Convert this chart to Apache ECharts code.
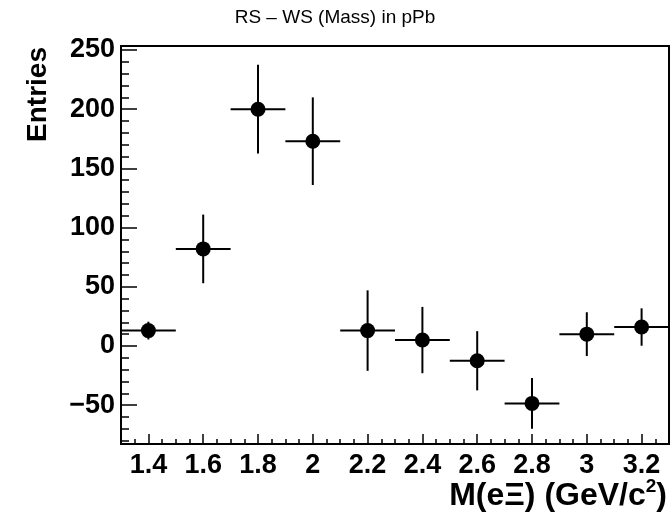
<!DOCTYPE html>
<html><head><meta charset="utf-8">
<script src="https://cdn.jsdelivr.net/npm/echarts@6/dist/echarts.min.js"></script>
<style>html,body{margin:0;padding:0;background:#fff}#c{width:670px;height:518px}</style>
</head><body><div id="c"></div>
<script>
// ---- data ----
const binCenters = [1.4, 1.6, 1.8, 2.0, 2.2, 2.4, 2.6, 2.8, 3.0, 3.2];
const binLow     = [1.3, 1.5, 1.7, 1.9, 2.1, 2.3, 2.5, 2.7, 2.9, 3.1];
const binHigh    = [1.5, 1.7, 1.9, 2.1, 2.3, 2.5, 2.7, 2.9, 3.1, 3.3];
const entries    = [13, 82, 200, 173, 13, 5, -12.5, -48.5, 10, 16];
const entryErrors= [7.5, 29, 37.5, 37, 34, 28, 25, 21.5, 18.5, 15.8];

const xMajorTicks = [1.4, 1.6, 1.8, 2, 2.2, 2.4, 2.6, 2.8, 3, 3.2];
const xMinorTicks = [1.35, 1.45, 1.5, 1.55, 1.65, 1.7, 1.75, 1.85, 1.9, 1.95, 2.05, 2.1, 2.15,
                     2.25, 2.3, 2.35, 2.45, 2.5, 2.55, 2.65, 2.7, 2.75, 2.85, 2.9, 2.95,
                     3.05, 3.1, 3.15, 3.25];
const yMajorTicks = [-50, 0, 50, 100, 150, 200, 250];
const yMinorTicks = [-80, -70, -60, -40, -30, -20, -10, 10, 20, 30, 40, 60, 70, 80, 90,
                     110, 120, 130, 140, 160, 170, 180, 190, 210, 220, 230, 240];
const xRange = [1.3, 3.3];
const yRange = [-82.8, 253.4];

const titleText = 'RS \u2013 WS (Mass) in pPb';
const yTitle = 'Entries';

// ---- chart ----
const chart = echarts.init(document.getElementById('c'), null, {renderer: 'canvas'});
const FONT = 'Liberation Sans, Arial, Helvetica, sans-serif';
const rows = binCenters.map((c, i) => [c, entries[i], binLow[i], binHigh[i], entryErrors[i]]);

const baseX = {
  type: 'value', min: xRange[0], max: xRange[1], position: 'bottom',
  splitLine: {show: false}
};
const baseY = {
  type: 'value', min: yRange[0], max: yRange[1], position: 'left',
  splitLine: {show: false}
};
const fmtMinus = v => String(v).replace('-', '\u2212');

chart.setOption({
  animation: false,
  backgroundColor: '#fff',
  title: {
    text: titleText, left: 'center', top: 3,
    textStyle: {fontFamily: FONT, fontWeight: 'normal', fontSize: 19, color: '#000'}
  },
  grid: {left: 121, right: 1, top: 46, bottom: 74, show: true, borderColor: '#000', borderWidth: 2,
         backgroundColor: 'transparent'},
  xAxis: [
    Object.assign({}, baseX, {
      axisLine: {show: true, onZero: false, lineStyle: {color: '#000', width: 2}},
      axisTick: {show: true, inside: true, length: 10, lineStyle: {color: '#000', width: 1.5},
                 customValues: xMajorTicks},
      axisLabel: {show: true, customValues: xMajorTicks, margin: 8, color: '#000',
                  fontFamily: FONT, fontWeight: 'bold', fontSize: 27}
    }),
    Object.assign({}, baseX, {
      axisLine: {show: false, onZero: false},
      axisTick: {show: true, inside: true, length: 5, lineStyle: {color: '#000', width: 1.5},
                 customValues: xMinorTicks},
      axisLabel: {show: false}
    })
  ],
  yAxis: [
    Object.assign({}, baseY, {
      axisLine: {show: true, onZero: false, lineStyle: {color: '#000', width: 2}},
      axisTick: {show: true, inside: true, length: 16, lineStyle: {color: '#000', width: 1.5},
                 customValues: yMajorTicks},
      axisLabel: {show: true, customValues: yMajorTicks, margin: 6, color: '#000',
                  fontFamily: FONT, fontWeight: 'bold', fontSize: 27, formatter: fmtMinus}
    }),
    Object.assign({}, baseY, {
      axisLine: {show: false, onZero: false},
      axisTick: {show: true, inside: true, length: 8, lineStyle: {color: '#000', width: 1.5},
                 customValues: yMinorTicks},
      axisLabel: {show: false}
    })
  ],
  graphic: [
    {
      type: 'text', x: 24, y: 47, rotation: Math.PI / 2,
      style: {text: yTitle, font: 'bold 28px ' + FONT, fill: '#000', align: 'right', verticalAlign: 'top'}
    },
    {
      type: 'text', x: 667, y: 477,
      style: {
        text: '{a|M(e\u039E) (GeV/c}{s|2}{a|)}',
        align: 'right', verticalAlign: 'top', fill: '#000',
        rich: {
          a: {font: 'bold 32px ' + FONT, fill: '#000', verticalAlign: 'bottom'},
          s: {font: 'bold 19px ' + FONT, fill: '#000', verticalAlign: 'top', padding: [0, 0, 16, 0]}
        }
      }
    }
  ],
  series: [
    {
      type: 'custom', xAxisIndex: 0, yAxisIndex: 0, data: rows, z: 2, clip: true,
      renderItem: function (params, api) {
        const c = api.value(0), v = api.value(1), lo = api.value(2), hi = api.value(3), e = api.value(4);
        const pL = api.coord([lo, v]), pR = api.coord([hi, v]);
        const pT = api.coord([c, v + e]), pB = api.coord([c, v - e]);
        const st = {stroke: '#000', lineWidth: 2};
        return {
          type: 'group',
          children: [
            {type: 'line', shape: {x1: pL[0], y1: pL[1], x2: pR[0], y2: pR[1]}, style: st},
            {type: 'line', shape: {x1: pT[0], y1: pT[1], x2: pB[0], y2: pB[1]}, style: st}
          ]
        };
      }
    },
    {
      type: 'scatter', xAxisIndex: 0, yAxisIndex: 0, z: 3,
      data: binCenters.map((c, i) => [c, entries[i]]),
      symbol: 'circle', symbolSize: 15,
      itemStyle: {color: '#000', opacity: 1}
    }
  ]
});
</script>
</body></html>
